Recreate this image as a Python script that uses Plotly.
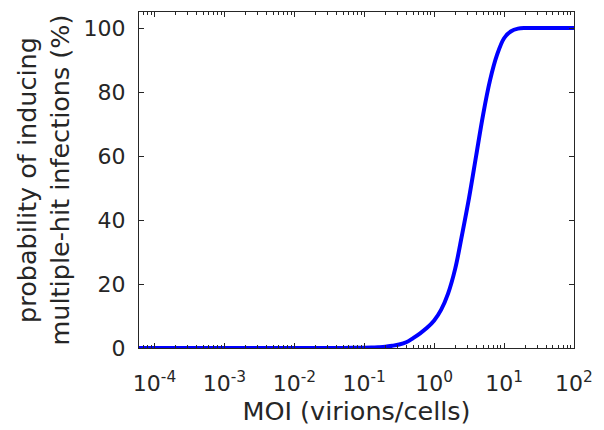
import plotly.graph_objects as go

# MOI values (virions/cells) and probability of multiple-hit infection (%)
moi = [6e-5, 1e-4, 1e-3, 1e-2, 0.03, 0.05, 0.1, 0.126, 0.158, 0.2, 0.251,
       0.316, 0.398, 0.5, 0.63, 0.79, 1.0, 1.26, 1.58, 2.0, 2.51, 3.16,
       3.98, 5.0, 6.3, 7.9, 10.0, 12.6, 15.8, 20.0, 25.0, 50.0, 100.0]
prob = [0.0, 0.0, 0.0, 0.0, 0.01, 0.03, 0.1, 0.15, 0.25, 0.4, 0.7,
        1.1, 1.8, 3.1, 4.6, 6.3, 8.6, 12.0, 17.0, 24.8, 35.5, 47.0,
        60.0, 72.8, 83.7, 91.5, 96.8, 99.0, 99.8, 100.0, 100.0, 100.0, 100.0]

x_tickvals = [1e-4, 1e-3, 1e-2, 1e-1, 1, 10, 100]
x_ticktext = ["10<sup>-4</sup>", "10<sup>-3</sup>", "10<sup>-2</sup>",
              "10<sup>-1</sup>", "10<sup>0</sup>", "10<sup>1</sup>", "10<sup>2</sup>"]
y_tickvals = [0, 20, 40, 60, 80, 100]

minor_vals = [m * 10 ** e for e in range(-5, 2) for m in range(2, 10)]
minor_vals = [v for v in minor_vals if 6e-5 <= v <= 100]

axis_col = "#262626"
tick_font = dict(family="DejaVu Sans", size=22, color=axis_col)
title_font = dict(family="DejaVu Sans", size=25.5, color=axis_col)

fig = go.Figure()
fig.add_trace(go.Scatter(
    x=moi, y=prob, mode="lines",
    line=dict(color="#0000ff", width=4, shape="spline", smoothing=1.0),
    hoverinfo="skip", showlegend=False,
))

fig.update_layout(
    width=604, height=430,
    margin=dict(l=139, r=21, t=11, b=80),
    paper_bgcolor="white", plot_bgcolor="white",
    font=tick_font,
    xaxis=dict(
        type="log", range=[-4.2218, 2],
        tickmode="array", tickvals=x_tickvals, ticktext=x_ticktext,
        ticks="inside", ticklen=5, tickwidth=1, tickcolor=axis_col,
        minor=dict(tickmode="array", tickvals=minor_vals, ticks="inside",
                   ticklen=3, tickwidth=1, tickcolor=axis_col, showgrid=False),
        showline=True, linecolor=axis_col, linewidth=1, mirror="allticks",
        showgrid=False, zeroline=False,
        title=dict(text="MOI (virions/cells)", font=title_font, standoff=5),
        tickfont=tick_font, ticklabelstandoff=16,
    ),
    yaxis=dict(
        range=[0, 105],
        tickmode="array", tickvals=y_tickvals,
        ticks="inside", ticklen=5, tickwidth=1, tickcolor=axis_col,
        showline=True, linecolor=axis_col, linewidth=1, mirror="allticks",
        showgrid=False, zeroline=False,
        title=dict(text="probability of inducing<br>multiple-hit infections (%)",
                   font=title_font, standoff=6),
        tickfont=tick_font, ticklabelstandoff=8,
    ),
)

fig.write_html("out.html")
